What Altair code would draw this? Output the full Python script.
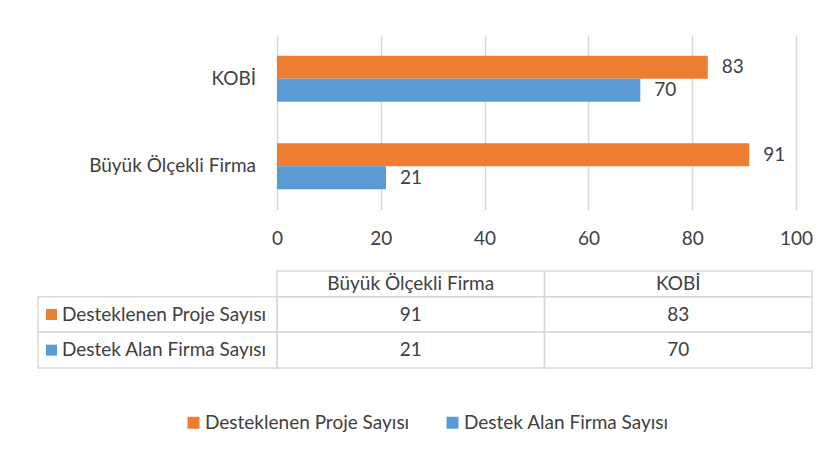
import altair as alt
import pandas as pd

# ---- data ----
categories = ["KOBİ", "Büyük Ölçekli Firma"]
series = ["Desteklenen Proje Sayısı", "Destek Alan Firma Sayısı"]
values_proje = [83, 91]
values_firma = [70, 21]
table_columns = ["Büyük Ölçekli Firma", "KOBİ"]
colors = ["#ED7D31", "#5B9BD5"]
x_ticks = [0, 20, 40, 60, 80, 100]

FONT = "Lato"
TXT = "#404040"
GRID = "#d9d9d9"
FS = 19

lookup = {}
rows = []
for cat, p, f in zip(categories, values_proje, values_firma):
    rows.append({"category": cat, "series": series[0], "value": p})
    rows.append({"category": cat, "series": series[1], "value": f})
    lookup[(cat, series[0])] = p
    lookup[(cat, series[1])] = f
bars_df = pd.DataFrame(rows)
cats_df = pd.DataFrame({"category": categories})

color_scale = alt.Scale(domain=series, range=colors)

# ---- bar chart ----
y_enc = alt.Y("category:N", sort=categories, axis=None,
              scale=alt.Scale(paddingInner=0.474, paddingOuter=0.237))
yoff_enc = alt.YOffset("series:N", sort=series,
                       scale=alt.Scale(paddingInner=0, paddingOuter=0))
x_scale = alt.Scale(domain=[-46.05, 103.08], nice=False)
x_axis = alt.Axis(values=x_ticks, title=None, domain=False, ticks=False,
                  grid=True, gridColor=GRID, gridWidth=1.5,
                  labelFont=FONT, labelFontSize=FS, labelColor=TXT,
                  labelPadding=19)

bars = alt.Chart(bars_df).mark_bar().encode(
    y=y_enc,
    yOffset=yoff_enc,
    x=alt.X("value:Q", scale=x_scale, axis=x_axis),
    x2=alt.datum(0),
    color=alt.Color("series:N", scale=color_scale,
                    legend=alt.Legend(orient="none", legendX=146, legendY=378,
                                      direction="horizontal", title=None,
                                      symbolType="square", symbolSize=144,
                                      symbolStrokeWidth=0, labelLimit=0,
                                      labelFont=FONT, labelFontSize=FS,
                                      labelColor=TXT, columnPadding=33,
                                      labelOffset=2, padding=0)),
)
value_labels = alt.Chart(bars_df).mark_text(
    align="left", baseline="middle", dx=14, font=FONT, fontSize=FS, color=TXT
).encode(
    y=y_enc, yOffset=yoff_enc,
    x=alt.X("value:Q", scale=x_scale),
    text="value:Q",
)
cat_labels = alt.Chart(cats_df).mark_text(
    align="right", baseline="middle", dx=-21, font=FONT, fontSize=FS, color=TXT
).encode(
    y=y_enc,
    x=alt.datum(0, scale=x_scale),
    text="category:N",
)
bar_chart = alt.layer(bars, value_labels, cat_labels).properties(width=774, height=175)

# ---- data table ----
LEFT = -0.8935
HEADER_H = 0.72
cells, head_txt, val_txt, lab_txt = [], [], [], []
for c, name in enumerate(table_columns):
    cells.append({"x": c, "x2": c + 1, "y": -HEADER_H, "y2": 0})
    head_txt.append({"x": c + 0.5, "y": -HEADER_H / 2, "text": name})
for r, s in enumerate(series):
    cells.append({"x": LEFT, "x2": 0, "y": r, "y2": r + 1})
    lab_txt.append({"x": LEFT, "y": r + 0.5, "text": s, "series": s})
    for c, name in enumerate(table_columns):
        cells.append({"x": c, "x2": c + 1, "y": r, "y2": r + 1})
        val_txt.append({"x": c + 0.5, "y": r + 0.5, "text": str(lookup[(name, s)])})

tx = alt.Scale(domain=[LEFT, 2], nice=False, zero=False)
ty = alt.Scale(domain=[-HEADER_H, 2], nice=False, zero=False, reverse=True)

grid_rects = alt.Chart(pd.DataFrame(cells)).mark_rect(
    fillOpacity=0, stroke=GRID, strokeWidth=1.5
).encode(
    x=alt.X("x:Q", scale=tx, axis=None), x2="x2:Q",
    y=alt.Y("y:Q", scale=ty, axis=None), y2="y2:Q",
)
txt_common = dict(font=FONT, fontSize=FS, color=TXT, baseline="middle")
heads = alt.Chart(pd.DataFrame(head_txt)).mark_text(align="center", **txt_common).encode(
    x=alt.X("x:Q", scale=tx, axis=None), y=alt.Y("y:Q", scale=ty, axis=None), text="text:N")
vals = alt.Chart(pd.DataFrame(val_txt)).mark_text(align="center", **txt_common).encode(
    x=alt.X("x:Q", scale=tx, axis=None), y=alt.Y("y:Q", scale=ty, axis=None), text="text:N")
labs = alt.Chart(pd.DataFrame(lab_txt)).mark_text(align="left", dx=24, **txt_common).encode(
    x=alt.X("x:Q", scale=tx, axis=None), y=alt.Y("y:Q", scale=ty, axis=None), text="text:N")
squares = alt.Chart(pd.DataFrame(lab_txt)).mark_square(
    size=121, opacity=1, xOffset=13.5, strokeWidth=0
).encode(
    x=alt.X("x:Q", scale=tx, axis=None), y=alt.Y("y:Q", scale=ty, axis=None),
    color=alt.Color("series:N", scale=color_scale, legend=None),
)
table_chart = alt.layer(grid_rects, heads, vals, labs, squares).properties(width=774, height=97)

chart = alt.vconcat(bar_chart, table_chart, spacing=22).resolve_scale(
    x="independent", y="independent"
).properties(
    padding={"left": 29, "top": 27, "right": 5, "bottom": 5},
    background="white",
).configure_view(strokeWidth=0, stroke="transparent")

chart.save("out.html", embed_options={"renderer": "svg", "actions": False})
